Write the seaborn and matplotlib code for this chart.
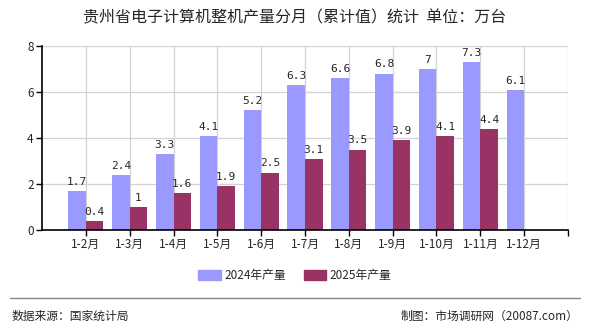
import seaborn as sns
import matplotlib.pyplot as plt
import pandas as pd
from matplotlib.lines import Line2D

months = ['1-2月', '1-3月', '1-4月', '1-5月', '1-6月', '1-7月',
          '1-8月', '1-9月', '1-10月', '1-11月', '1-12月']
output_2024 = [1.7, 2.4, 3.3, 4.1, 5.2, 6.3, 6.6, 6.8, 7, 7.3, 6.1]
output_2025 = [0.4, 1, 1.6, 1.9, 2.5, 3.1, 3.5, 3.9, 4.1, 4.4, None]
series = ['2024年产量', '2025年产量']

df = pd.DataFrame({
    'month': months * 2,
    'value': output_2024 + output_2025,
    'series': [series[0]] * len(months) + [series[1]] * len(months),
})

sns.set_style('white')
plt.rcParams['font.family'] = ['Noto Sans CJK SC', 'DejaVu Sans']

fig = plt.figure(figsize=(5.9, 3.3), dpi=100)
ax = fig.add_axes([0.0712, 0.303, 0.8915, 0.5576])

sns.barplot(data=df, x='month', y='value', hue='series', order=months,
            hue_order=series, palette=['#9999FF', '#993366'],
            width=0.8, saturation=1, ax=ax, legend=False, zorder=3,
            linewidth=0, edgecolor='none')

for cont in ax.containers:
    ax.bar_label(cont, fmt='%g', padding=3, fontsize=8,
                 family='DejaVu Sans Mono')

ax.set_xlim(-1, 11)
ax.set_ylim(0, 8)
ax.set_yticks([0, 2, 4, 6, 8])
ax.set_xticks(list(range(len(months))) + [11])
ax.set_xticklabels(months + [''])
ax.grid(True, color='#d3d3d3', linewidth=0.9, zorder=0)
ax.set_axisbelow(True)
ax.set_xlabel('')
ax.set_ylabel('')
for s in ['top', 'right']:
    ax.spines[s].set_visible(False)
for s in ['left', 'bottom']:
    ax.spines[s].set_color('black')
    ax.spines[s].set_linewidth(1.2)
    ax.spines[s].set_zorder(5)
ax.tick_params(axis='both', length=4, width=1, color='black', labelsize=8.5,
               direction='out', pad=2, left=True, bottom=True)

fig.text(0.5, 0.945, '贵州省电子计算机整机产量分月（累计值）统计  单位：万台',
         ha='center', va='center', fontsize=11.5)

handles = [plt.Rectangle((0, 0), 1, 1, color=c) for c in ['#9999FF', '#993366']]
fig.legend(handles, series, loc='center', bbox_to_anchor=(0.5, 0.164),
           ncol=2, frameon=False, fontsize=8.5, handlelength=1.9,
           handleheight=0.9, columnspacing=1.5, handletextpad=0.3)

fig.add_artist(Line2D([0.017, 0.983], [0.097, 0.097], color='#888888',
                      linewidth=1, transform=fig.transFigure))
fig.text(0.02, 0.042, '数据来源：国家统计局', ha='left', va='center', fontsize=8.5)
fig.text(0.98, 0.042, '制图：市场调研网（20087.com）', ha='right', va='center',
         fontsize=8.5)

fig.savefig('out.png', dpi=100)
